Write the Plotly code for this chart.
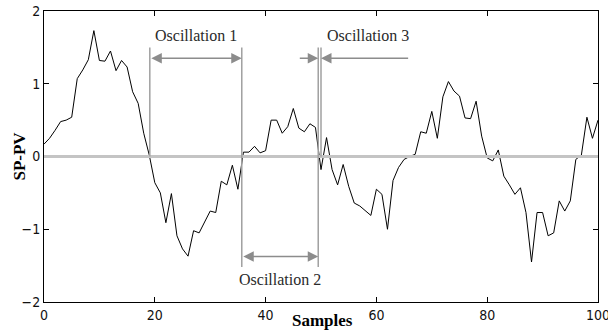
import plotly.graph_objects as go

samples = list(range(0, 101))
sp_pv = [
    0.17, 0.25, 0.36, 0.48, 0.50, 0.54, 1.07, 1.19, 1.33, 1.73,
    1.32, 1.31, 1.45, 1.18, 1.32, 1.23, 0.89, 0.73, 0.32, 0.02,
    -0.36, -0.50, -0.91, -0.51, -1.09, -1.27, -1.37, -1.02, -1.05, -0.91,
    -0.75, -0.77, -0.34, -0.39, -0.12, -0.45, 0.06, 0.06, 0.14, 0.05,
    0.08, 0.50, 0.50, 0.32, 0.41, 0.66, 0.39, 0.34, 0.45, 0.40,
    -0.18, 0.26, -0.18, -0.39, -0.11, -0.41, -0.64, -0.68, -0.75, -0.81,
    -0.45, -0.52, -1.00, -0.33, -0.15, -0.04, 0.00, 0.03, 0.34, 0.32,
    0.62, 0.25, 0.82, 1.03, 0.90, 0.83, 0.53, 0.52, 0.76, 0.28,
    -0.02, -0.06, 0.09, -0.27, -0.39, -0.52, -0.43, -0.77, -1.45, -0.77,
    -0.77, -1.09, -1.05, -0.61, -0.75, -0.61, -0.04, 0.02, 0.54, 0.25,
    0.50,
]

# zero-crossing boundaries marking the oscillations
osc_bounds = [19.1, 35.7, 49.5, 50.0]
osc_labels = ["Oscillation 1", "Oscillation 2", "Oscillation 3"]
x_ticks = [0, 20, 40, 60, 80, 100]
y_ticks = [-2, -1, 0, 1, 2]

GRAY = "#a0a0a0"
ARROW = "#8c8c8c"
TXT = "#2a2a2a"
SERIF = "Liberation Serif, Times New Roman, serif"
TICKFONT = dict(family="Liberation Sans Narrow, DejaVu Sans Condensed, Arial", size=14, color="#111")

fig = go.Figure()
fig.add_trace(go.Scatter(x=samples, y=sp_pv, mode="lines",
                         line=dict(color="#000000", width=1), hoverinfo="skip"))

shapes = []
# zero line
shapes.append(dict(type="line", xref="x", yref="y", x0=samples[0], x1=samples[-1], y0=0, y1=0,
                   line=dict(color="#c4c4c4", width=3), layer="above"))
# vertical boundary lines
top, bot = 1.5, -1.52
shapes.append(dict(type="line", xref="x", yref="y", x0=osc_bounds[0], x1=osc_bounds[0], y0=0, y1=top,
                   line=dict(color=GRAY, width=1.5)))
shapes.append(dict(type="line", xref="x", yref="y", x0=osc_bounds[1], x1=osc_bounds[1], y0=bot, y1=top,
                   line=dict(color=GRAY, width=1.5)))
shapes.append(dict(type="line", xref="x", yref="y", x0=osc_bounds[2], x1=osc_bounds[2], y0=bot, y1=top,
                   line=dict(color=GRAY, width=1.5)))
shapes.append(dict(type="line", xref="x", yref="y", x0=osc_bounds[3], x1=osc_bounds[3], y0=0, y1=top,
                   line=dict(color=GRAY, width=1.5)))

ann = []
arr_hi, arr_lo = 1.35, -1.375
lab_hi, lab_lo = 1.67, -1.69


def arrow(x, y, ax, ay, side="end"):
    return dict(x=x, y=y, ax=ax, ay=ay, xref="x", yref="y", axref="x", ayref="y",
                text="", showarrow=True, arrowhead=2, arrowsize=1.4, arrowwidth=1.5,
                arrowcolor=ARROW, arrowside=side, standoff=0, startstandoff=0)


ann.append(arrow(osc_bounds[1], arr_hi, osc_bounds[0], arr_hi, "end+start"))
ann.append(arrow(osc_bounds[2], arr_lo, osc_bounds[1], arr_lo, "end+start"))
ann.append(arrow(osc_bounds[2], arr_hi, 45.9, arr_hi))
ann.append(arrow(osc_bounds[3], arr_hi, 66.0, arr_hi))

lab_font = dict(family=SERIF, size=16, color=TXT)
ann.append(dict(x=(osc_bounds[0] + osc_bounds[1]) / 2, y=lab_hi, xref="x", yref="y",
                text=osc_labels[0], showarrow=False, font=lab_font))
ann.append(dict(x=(osc_bounds[1] + osc_bounds[2]) / 2, y=lab_lo, xref="x", yref="y",
                text=osc_labels[1], showarrow=False, font=lab_font))
ann.append(dict(x=58.5, y=lab_hi, xref="x", yref="y",
                text=osc_labels[2], showarrow=False, font=lab_font))

# axis titles
ann.append(dict(x=0.503, y=-0.062, xref="paper", yref="paper", yanchor="middle",
                text="<b>Samples</b>", showarrow=False,
                font=dict(family=SERIF, size=17, color="#000")))
ann.append(dict(x=-0.045, y=0.5, xref="paper", yref="paper", xanchor="center",
                text="<b>SP-PV</b>", textangle=-90, showarrow=False,
                font=dict(family=SERIF, size=17, color="#000")))

axis_common = dict(showgrid=False, zeroline=False, showline=True, linecolor="#000", linewidth=1,
                   mirror="allticks", ticks="inside", ticklen=5, tickcolor="#000", tickwidth=1,
                   tickfont=TICKFONT, automargin=False, ticklabeloverflow="allow")

fig.update_layout(
    width=608, height=331,
    margin=dict(l=44, r=10, t=11, b=29, autoexpand=False),
    paper_bgcolor="white", plot_bgcolor="white",
    showlegend=False,
    shapes=shapes, annotations=ann,
    xaxis=dict(range=[0, 100], tickvals=x_ticks, **axis_common),
    yaxis=dict(range=[-2, 2], tickvals=y_ticks, **axis_common),
)

fig.write_html("out.html")
